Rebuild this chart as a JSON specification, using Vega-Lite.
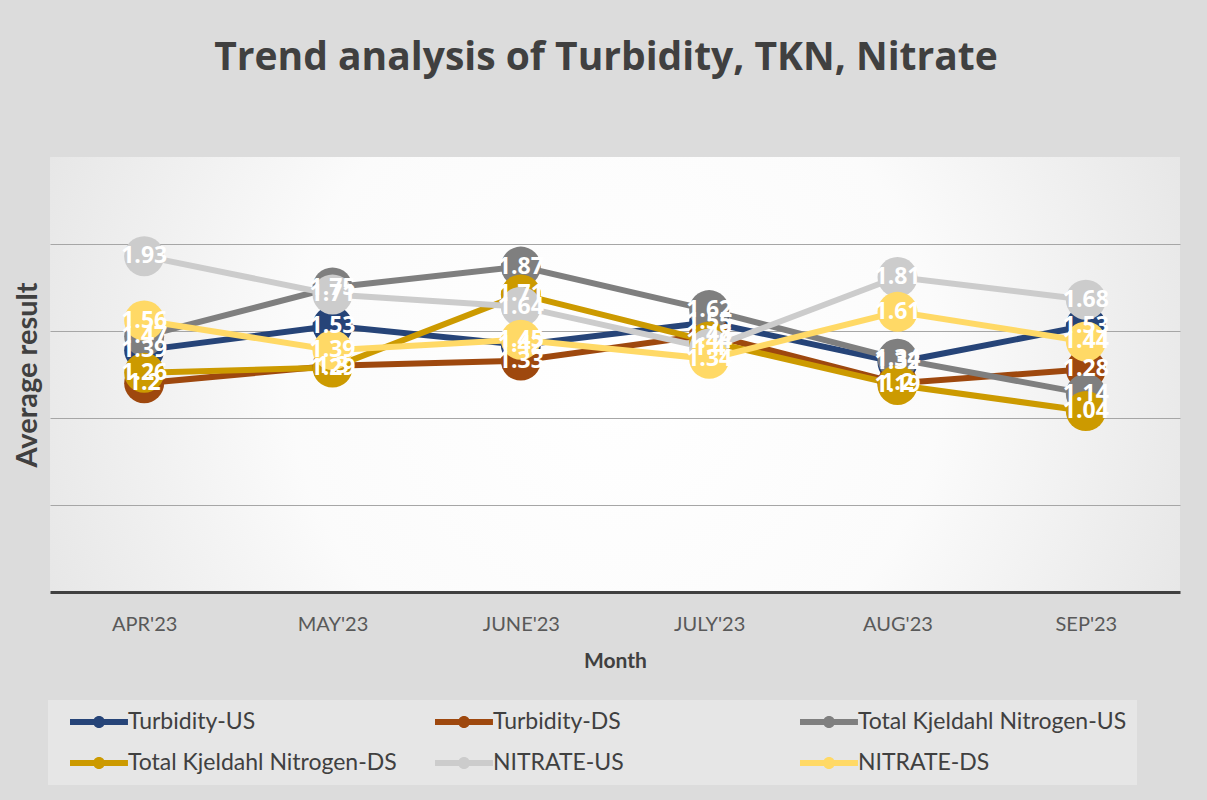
{
  "$schema": "https://vega.github.io/schema/vega-lite/v6.json",
  "width": 1130,
  "height": 435,
  "autosize": {"type": "none"},
  "padding": {"left": 50, "top": 157, "right": 27, "bottom": 208},
  "background": "#dcdcdc",
  "title": {
    "text": "Trend analysis of Turbidity, TKN, Nitrate",
    "fontSize": 39,
    "font": "Open Sans",
    "fontWeight": "bold",
    "color": "#404040",
    "offset": 79,
    "dx": -9,
    "anchor": "middle"
  },
  "config": {
    "view": {
      "stroke": null,
      "fill": {
        "gradient": "radial",
        "x1": 0.5, "y1": 0.5, "r1": 0,
        "x2": 0.5, "y2": 0.5, "r2": 0.72,
        "stops": [
          {"offset": 0, "color": "#ffffff"},
          {"offset": 0.4, "color": "#fbfbfb"},
          {"offset": 1, "color": "#d8d8d8"}
        ]
      }
    },
    "font": "Lato"
  },
  "data": {
    "values": [
      {"month": "APR'23", "series": "Turbidity-US", "value": 1.39},
      {"month": "MAY'23", "series": "Turbidity-US", "value": 1.53},
      {"month": "JUNE'23", "series": "Turbidity-US", "value": 1.42},
      {"month": "JULY'23", "series": "Turbidity-US", "value": 1.55},
      {"month": "AUG'23", "series": "Turbidity-US", "value": 1.32},
      {"month": "SEP'23", "series": "Turbidity-US", "value": 1.53},
      {"month": "APR'23", "series": "Turbidity-DS", "value": 1.2},
      {"month": "MAY'23", "series": "Turbidity-DS", "value": 1.3},
      {"month": "JUNE'23", "series": "Turbidity-DS", "value": 1.33},
      {"month": "JULY'23", "series": "Turbidity-DS", "value": 1.48},
      {"month": "AUG'23", "series": "Turbidity-DS", "value": 1.2},
      {"month": "SEP'23", "series": "Turbidity-DS", "value": 1.28},
      {"month": "APR'23", "series": "Total Kjeldahl Nitrogen-US", "value": 1.47},
      {"month": "MAY'23", "series": "Total Kjeldahl Nitrogen-US", "value": 1.75},
      {"month": "JUNE'23", "series": "Total Kjeldahl Nitrogen-US", "value": 1.87},
      {"month": "JULY'23", "series": "Total Kjeldahl Nitrogen-US", "value": 1.62},
      {"month": "AUG'23", "series": "Total Kjeldahl Nitrogen-US", "value": 1.34},
      {"month": "SEP'23", "series": "Total Kjeldahl Nitrogen-US", "value": 1.14},
      {"month": "APR'23", "series": "Total Kjeldahl  Nitrogen-DS", "value": 1.26},
      {"month": "MAY'23", "series": "Total Kjeldahl  Nitrogen-DS", "value": 1.29},
      {"month": "JUNE'23", "series": "Total Kjeldahl  Nitrogen-DS", "value": 1.71},
      {"month": "JULY'23", "series": "Total Kjeldahl  Nitrogen-DS", "value": 1.44},
      {"month": "AUG'23", "series": "Total Kjeldahl  Nitrogen-DS", "value": 1.19},
      {"month": "SEP'23", "series": "Total Kjeldahl  Nitrogen-DS", "value": 1.04},
      {"month": "APR'23", "series": "NITRATE-US", "value": 1.93},
      {"month": "MAY'23", "series": "NITRATE-US", "value": 1.71},
      {"month": "JUNE'23", "series": "NITRATE-US", "value": 1.64},
      {"month": "JULY'23", "series": "NITRATE-US", "value": 1.4},
      {"month": "AUG'23", "series": "NITRATE-US", "value": 1.81},
      {"month": "SEP'23", "series": "NITRATE-US", "value": 1.68},
      {"month": "APR'23", "series": "NITRATE-DS", "value": 1.56},
      {"month": "MAY'23", "series": "NITRATE-DS", "value": 1.39},
      {"month": "JUNE'23", "series": "NITRATE-DS", "value": 1.45},
      {"month": "JULY'23", "series": "NITRATE-DS", "value": 1.34},
      {"month": "AUG'23", "series": "NITRATE-DS", "value": 1.61},
      {"month": "SEP'23", "series": "NITRATE-DS", "value": 1.44}
    ]
  },
  "encoding": {
    "x": {
      "field": "month",
      "type": "ordinal",
      "sort": ["APR'23", "MAY'23", "JUNE'23", "JULY'23", "AUG'23", "SEP'23"],
      "scale": {"type": "point", "padding": 0.5},
      "axis": {
        "title": "Month",
        "titleFontSize": 21,
        "titleFontWeight": "bold",
        "titleColor": "#404040",
        "titlePadding": 16,
        "labelAngle": 0,
        "labelFontSize": 20,
        "labelColor": "#595959",
        "labelPadding": 22,
        "ticks": false,
        "domain": true,
        "domainColor": "#404040",
        "domainWidth": 3,
        "grid": false
      }
    },
    "y": {
      "field": "value",
      "type": "quantitative",
      "scale": {"domain": [0, 2.5], "nice": false},
      "axis": {
        "title": "Average result",
        "titleFontSize": 29,
        "titleFontWeight": "bold",
        "titleColor": "#404040",
        "titlePadding": 8,
        "values": [0.5, 1, 1.5, 2],
        "labels": false,
        "ticks": false,
        "domain": false,
        "grid": true,
        "gridColor": "#a6a6a6",
        "gridWidth": 1.2
      }
    },
    "color": {
      "field": "series",
      "type": "nominal",
      "sort": null,
      "scale": {
        "domain": ["Turbidity-US", "Turbidity-DS", "Total Kjeldahl Nitrogen-US", "Total Kjeldahl  Nitrogen-DS", "NITRATE-US", "NITRATE-DS"],
        "range": ["#264478", "#9e480e", "#7f7f7f", "#cc9a00", "#cccccc", "#ffd966"]
      },
      "legend": {
        "title": null,
        "orient": "none",
        "legendX": -2,
        "legendY": 543,
        "direction": "horizontal",
        "columns": 3,
        "gridAlign": "all",
        "columnPadding": 20,
        "rowPadding": 17,
        "fillColor": "#e6e6e6",
        "padding": 10,
        "labelFontSize": 23,
        "labelColor": "#404040",
        "labelLimit": 400,
        "labelOffset": 46,
        "symbolType": "M0,-0.25H4.83V0.25H0Z M1.92,0A0.5,0.5 0 1,1 2.92,0A0.5,0.5 0 1,1 1.92,0Z",
        "symbolSize": 576,
        "symbolStrokeWidth": 0,
        "symbolOpacity": 1
      }
    }
  },
  "layer": [
    {
      "mark": {"type": "line", "strokeWidth": 6}
    },
    {
      "mark": {"type": "circle", "size": 1600, "opacity": 1}
    },
    {
      "mark": {"type": "text", "fontSize": 23, "fontWeight": "bold", "font": "Open Sans"},
      "encoding": {
        "text": {"field": "value", "type": "quantitative"},
        "color": {"value": "#ffffff"}
      }
    }
  ]
}
